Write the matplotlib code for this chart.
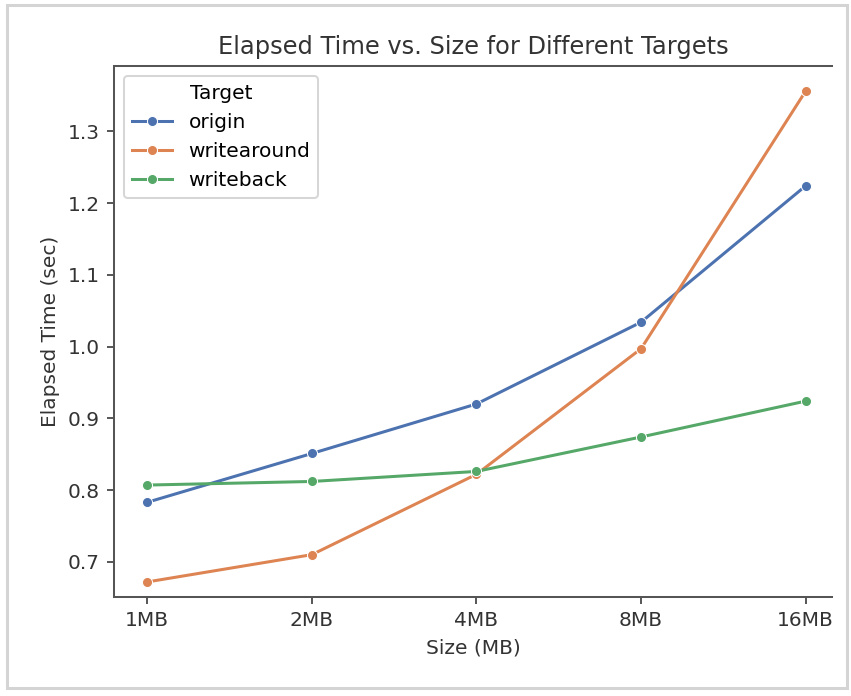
import matplotlib.pyplot as plt
from matplotlib.patches import Rectangle

# 計測値
sizes = ["1MB", "2MB", "4MB", "8MB", "16MB"]
targets = ["origin", "writearound", "writeback"]
origin = [0.783, 0.851, 0.920, 1.034, 1.224]
writearound = [0.672, 0.710, 0.822, 0.997, 1.356]
writeback = [0.807, 0.812, 0.826, 0.874, 0.924]

colors = ["#4C72B0", "#DD8452", "#55A868"]

# 元画像は拡大されたスクリーンショットなので dpi を上げて合わせる
W, H = 851, 696
DPI = 145
fig = plt.figure(figsize=(W / DPI, H / DPI), dpi=DPI)

# スクリーンショットの枠
fig.patches.append(Rectangle((7 / W, 1 - 688 / H), 840 / W, 683 / H,
                             transform=fig.transFigure, fill=False,
                             edgecolor="#d4d4d4", linewidth=1.5))

ax = fig.add_axes([114 / W, 1 - 597 / H, 718 / W, 531 / H])

xs = list(range(len(sizes)))
for name, vals, c in zip(targets, [origin, writearound, writeback], colors):
    ax.plot(xs, vals, marker="o", markersize=5, color=c, linewidth=1.5,
            markeredgecolor="white", markeredgewidth=0.5, label=name)

ax.set_xticks(xs)
ax.set_xticklabels(sizes)
ax.set_xlim(-0.202, 4.16)
ax.set_ylim(0.651, 1.391)
ax.set_yticks([0.7, 0.8, 0.9, 1.0, 1.1, 1.2, 1.3])

ax.spines["right"].set_visible(False)
for s in ["left", "top", "bottom"]:
    ax.spines[s].set_color("#555555")
    ax.spines[s].set_linewidth(1.0)
ax.tick_params(colors="#333333", labelsize=10)

ax.set_title("Elapsed Time vs. Size for Different Targets", fontsize=12, color="#333333")
ax.set_xlabel("Size (MB)", fontsize=10, color="#333333")
ax.set_ylabel("Elapsed Time (sec)", fontsize=10, color="#333333")

ax.legend(title="Target", loc="upper left", fontsize=10, title_fontsize=10)

fig.savefig("out.png", dpi=DPI)
